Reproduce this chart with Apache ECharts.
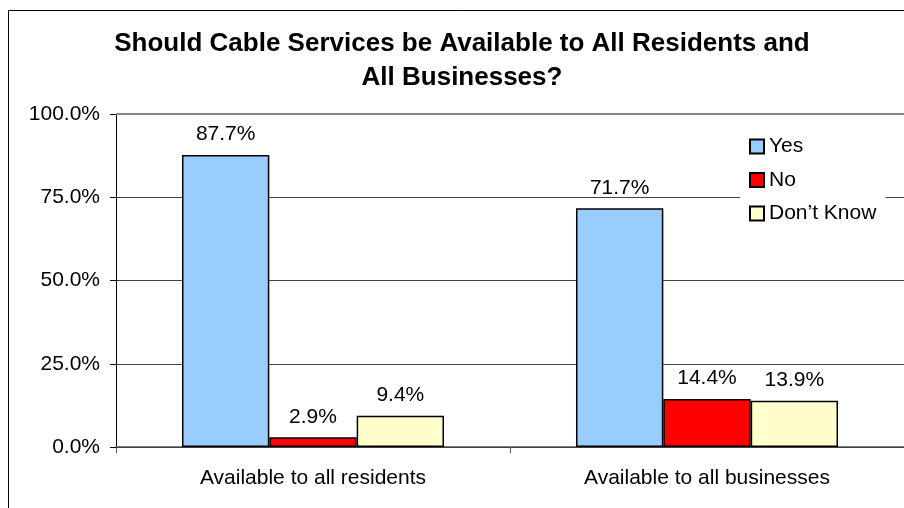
<!DOCTYPE html>
<html><head><meta charset="utf-8">
<script src="https://cdn.jsdelivr.net/npm/echarts@6/dist/echarts.min.js"></script>
<style>html,body{margin:0;padding:0;background:#fff;overflow:hidden}#c{width:904px;height:508px}</style>
</head><body><div id="c"></div>
<script>
const categories = ['Available to all residents', 'Available to all businesses'];
const yesValues = [87.7, 71.7];
const noValues = [2.9, 14.4];
const dkValues = [9.4, 13.9];
const seriesNames = ['Yes', 'No', 'Don\u2019t Know'];
const titleText = 'Should Cable Services be Available to All Residents and\nAll Businesses?';

const FONT = '"Liberation Sans", Arial, sans-serif';
const chart = echarts.init(document.getElementById('c'), null, {renderer: 'canvas'});
function mk(name, data, color, extra) {
  return Object.assign({
    name, type: 'bar', data, barGap: '0%', barCategoryGap: '33.5%',
    itemStyle: {color, borderColor: '#000', borderWidth: 1.5},
    label: {show: true, position: 'top', distance: 10, color: '#000', fontFamily: FONT, fontSize: 21,
      formatter: p => p.value.toFixed(1) + '%'},
    emphasis: {disabled: true}
  }, extra || {});
}
chart.setOption({
  animation: false,
  backgroundColor: '#fff',
  textStyle: {fontFamily: FONT},
  graphic: [{type: 'rect', shape: {x: 8.5, y: 10.5, width: 1000, height: 600},
    style: {fill: 'none', stroke: '#000', lineWidth: 1}, z: -1, silent: true}],
  title: {text: titleText, left: 462, textAlign: 'center', top: 27, padding: 0,
    textStyle: {fontFamily: FONT, fontSize: 26, fontWeight: 'bold', color: '#000', lineHeight: 34}},
  legend: {orient: 'vertical', left: 740, top: 129, padding: [7, 9, 10, 9], itemGap: 12.5,
    itemWidth: 14, itemHeight: 14, backgroundColor: '#fff', icon: 'rect', z: 10,
    textStyle: {fontFamily: FONT, fontSize: 21, lineHeight: 21, color: '#000'}, data: seriesNames},
  grid: {left: 116, top: 114, width: 796, height: 333, containLabel: false},
  xAxis: {type: 'category', data: categories,
    axisLine: {lineStyle: {color: '#555', width: 1.5}},
    axisTick: {show: true, length: 6, lineStyle: {color: '#555'}},
    axisLabel: {fontFamily: FONT, fontSize: 21, color: '#000', margin: 21}},
  yAxis: {type: 'value', min: 0, max: 100, interval: 25,
    axisLine: {show: true, lineStyle: {color: '#000', width: 1}},
    axisTick: {show: true, length: 6, lineStyle: {color: '#000'}},
    axisLabel: {fontFamily: FONT, fontSize: 21, color: '#000', margin: 16,
      formatter: v => v.toFixed(1) + '%'},
    splitLine: {show: true, lineStyle: {color: ['#000', '#444', '#444', '#444', '#888'], width: 1}}},
  series: [
    mk(seriesNames[0], yesValues, '#99CCFF', {
      markLine: {silent: true, symbol: 'none', label: {show: false},
        lineStyle: {color: '#888', width: 2, type: 'solid'}, data: [{yAxis: 100}]}
    }),
    mk(seriesNames[1], noValues, '#FF0000'),
    mk(seriesNames[2], dkValues, '#FFFFCC')
  ]
});
</script></body></html>
